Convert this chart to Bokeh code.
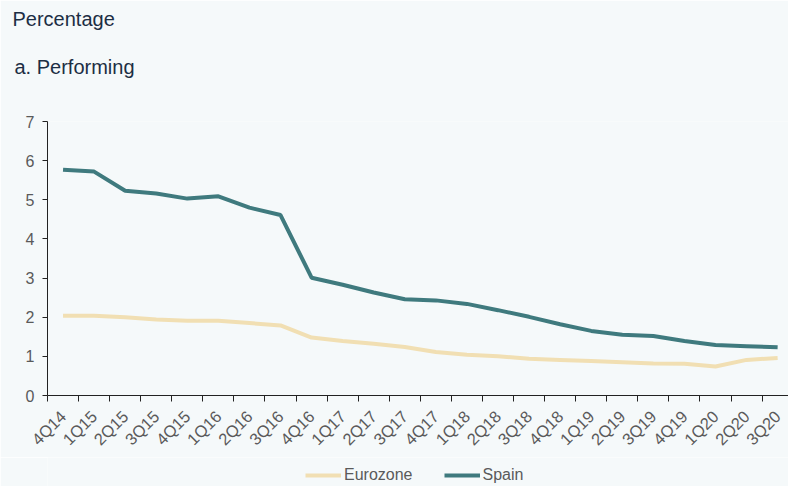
import math
from bokeh.plotting import figure
from bokeh.layouts import column
from bokeh.models import (ColumnDataSource, Range1d, FixedTicker, Legend, LegendItem, Title)
from bokeh.embed import file_html
from bokeh.resources import INLINE

# Quarterly non-performing ratio, percentage
quarters = ["4Q14", "1Q15", "2Q15", "3Q15", "4Q15", "1Q16", "2Q16", "3Q16",
            "4Q16", "1Q17", "2Q17", "3Q17", "4Q17", "1Q18", "2Q18", "3Q18",
            "4Q18", "1Q19", "2Q19", "3Q19", "4Q19", "1Q20", "2Q20", "3Q20"]
eurozone = [2.04, 2.04, 2.00, 1.94, 1.91, 1.91, 1.85, 1.79,
            1.48, 1.39, 1.32, 1.24, 1.11, 1.04, 1.00, 0.94,
            0.91, 0.88, 0.85, 0.82, 0.81, 0.74, 0.91, 0.96]
spain = [5.77, 5.72, 5.23, 5.16, 5.03, 5.09, 4.80, 4.61,
         3.01, 2.83, 2.63, 2.46, 2.43, 2.34, 2.18, 2.01,
         1.82, 1.65, 1.55, 1.52, 1.39, 1.29, 1.26, 1.23]
series_names = ["Eurozone", "Spain"]
series_colors = ["#f1dfb3", "#3f7a7e"]

BG = "#f5f9fa"
TEXT = "#1c2e44"
TICK = "#5a5a5a"
FONT = "Liberation Sans"

idx = list(range(len(quarters)))
src = ColumnDataSource(dict(x=idx, eurozone=eurozone, spain=spain))

p = figure(frame_width=741, frame_height=274, output_backend="svg", toolbar_location=None,
           x_range=Range1d(-0.5, len(quarters) - 0.65), y_range=Range1d(0, 7),
           min_border_left=47, min_border_right=0, min_border_top=0,
           min_border_bottom=61, background_fill_color=BG, border_fill_color=BG,
           outline_line_color=None)

# heading stack: blank spacer next to the frame, then subtitle, then main heading
spacer = Title(text=" ", text_font=FONT, text_font_size="20px", standoff=0)
p.add_layout(spacer, "above")
sub = Title(text="a. Performing", text_font=FONT, text_font_size="20px",
            text_font_style="normal", text_color=TEXT, offset=-33, standoff=39)
p.add_layout(sub, "above")
main = Title(text="Percentage", text_font=FONT, text_font_size="20px",
             text_font_style="normal", text_color=TEXT, offset=-35, standoff=10)
p.add_layout(main, "above")

p.line("x", "eurozone", source=src, line_color=series_colors[0], line_width=4)
p.line("x", "spain", source=src, line_color=series_colors[1], line_width=4)

p.xgrid.visible = False
p.ygrid.visible = False

# x axis: labels at quarter centres, tick marks at quarter boundaries
xa = p.xaxis[0]
xa.ticker = FixedTicker(ticks=idx, minor_ticks=[i - 0.5 for i in range(len(quarters) + 1)])
xa.major_label_overrides = {i: q for i, q in enumerate(quarters)}
xa.major_label_orientation = math.pi / 4
xa.major_tick_line_color = None
xa.minor_tick_line_color = "#222222"
xa.minor_tick_in = 0
xa.minor_tick_out = 6
xa.axis_line_color = "#222222"
xa.major_label_text_font = FONT
xa.major_label_text_font_size = "16.5px"
xa.major_label_text_color = TICK
xa.major_label_standoff = 12

ya = p.yaxis[0]
ya.ticker = FixedTicker(ticks=list(range(8)), minor_ticks=[])
ya.axis_line_color = "#222222"
ya.major_tick_line_color = "#222222"
ya.major_tick_in = 0
ya.major_tick_out = 5
ya.major_label_text_font = FONT
ya.major_label_text_font_size = "16px"
ya.major_label_text_color = TICK
ya.major_label_standoff = 8

# legend strip underneath the chart
leg = figure(width=788, height=30, output_backend="svg", toolbar_location=None,
             x_range=Range1d(0, 1), y_range=Range1d(0, 1),
             x_axis_location=None, y_axis_location=None,
             min_border=0, background_fill_color=BG, border_fill_color=BG,
             outline_line_color=None)
leg.grid.visible = False
items = []
for name, color in zip(series_names, series_colors):
    r = leg.line(x=[float("nan")], y=[float("nan")], line_color=color, line_width=4)
    items.append(LegendItem(label=name, renderers=[r]))
legend = Legend(items=items, orientation="horizontal", location=(258, 3),
                background_fill_alpha=0, border_line_color=None,
                label_text_font=FONT, label_text_font_size="16px",
                label_text_color=TICK, glyph_width=36, glyph_height=16,
                label_height=16, label_standoff=3, spacing=31, padding=2, margin=0)
leg.add_layout(legend)

page = column(p, leg, spacing=0)
open("out.html", "w").write(file_html(page, INLINE))
